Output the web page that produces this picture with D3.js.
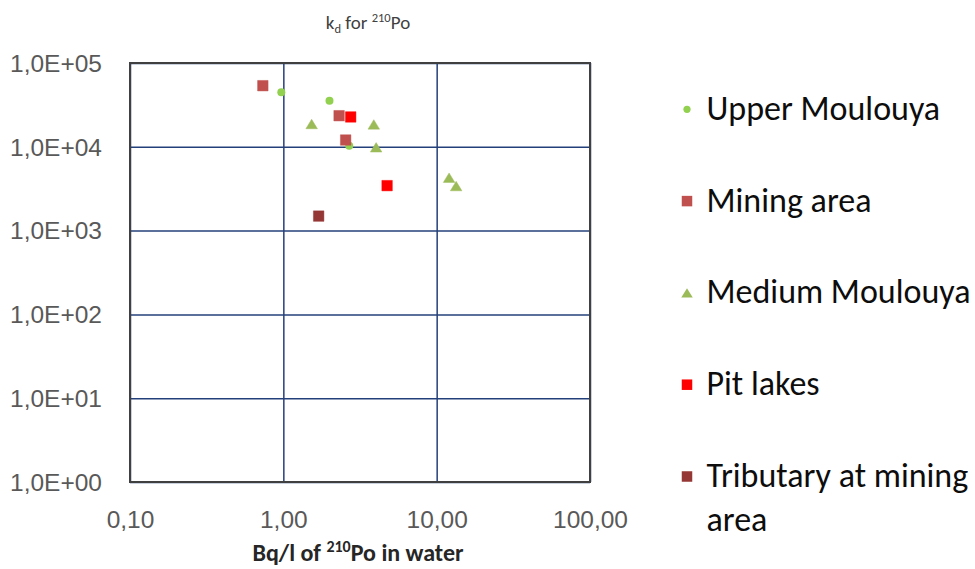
<!DOCTYPE html>
<html>
<head>
<meta charset="utf-8">
<script src="https://cdn.jsdelivr.net/npm/d3@7"></script>
<style>
  html, body { margin: 0; padding: 0; background: #fff; }
  svg { display: block; font-family: Carlito, Lato, "Open Sans", sans-serif; }
</style>
</head>
<body>
<div id="chart"></div>
<script>
// series (x: Bq/l in water, y: kd)
const upperX = [0.97, 2.0, 2.69];
const upperY = [44700, 35500, 10300];
const miningX = [0.735, 2.31, 2.55];
const miningY = [53600, 23500, 12050];
const mediumX = [1.53, 3.89, 4.03, 12.05, 13.4];
const mediumY = [18700, 18500, 9860, 4280, 3400];
const pitX = [2.75, 4.75];
const pitY = [22700, 3440];
const tribX = [1.70];
const tribY = [1490];

const xTicks = [0.1, 1, 10, 100];
const yTicks = [1, 10, 100, 1000, 10000, 100000];

const seriesNames = ["Upper Moulouya", "Mining area", "Medium Moulouya", "Pit lakes", "Tributary at mining area"];

const width = 975;
const height = 569;
const plot = { left: 130, right: 590, top: 63, bottom: 482 };

const series = [
  { name: seriesNames[0], xs: upperX, ys: upperY, shape: "circle", color: "#92D050" },
  { name: seriesNames[1], xs: miningX, ys: miningY, shape: "square", color: "#C0504D" },
  { name: seriesNames[2], xs: mediumX, ys: mediumY, shape: "triangle", color: "#9BBB59" },
  { name: seriesNames[3], xs: pitX, ys: pitY, shape: "square", color: "#FF0000" },
  { name: seriesNames[4], xs: tribX, ys: tribY, shape: "square", color: "#953735" }
];

const x = d3.scaleLog().domain([0.1, 100]).range([plot.left, plot.right]);
const y = d3.scaleLog().domain([1, 100000]).range([plot.bottom, plot.top]);

const svg = d3.select("#chart")
  .append("svg")
  .attr("width", width)
  .attr("height", height)
  .attr("viewBox", [0, 0, width, height]);

// marker path, centred on its box like Excel does
function marker(shape, s) {
  const h = s / 2;
  if (shape === "square") return `M${-h},${-h}H${h}V${h}H${-h}Z`;
  if (shape === "triangle") return `M0,${-h * 0.9}L${h * 1.1},${h * 0.9}L${-h * 1.1},${h * 0.9}Z`;
  const r = h * 0.8;
  return `M${r},0A${r},${r} 0 1,1 ${-r},0A${r},${r} 0 1,1 ${r},0Z`;
}

// grid
svg.append("g")
  .attr("transform", `translate(0,${plot.bottom})`)
  .call(d3.axisBottom(x).tickValues(xTicks).tickSize(-(plot.bottom - plot.top)).tickFormat(""))
  .call(g => g.select(".domain").remove())
  .call(g => g.selectAll(".tick line").attr("stroke", "#24407A").attr("stroke-width", 1.5));

svg.append("g")
  .attr("transform", `translate(${plot.left},0)`)
  .call(d3.axisLeft(y).tickValues(yTicks).tickSize(-(plot.right - plot.left)).tickFormat(""))
  .call(g => g.select(".domain").remove())
  .call(g => g.selectAll(".tick line").attr("stroke", "#24407A").attr("stroke-width", 1.5));

// plot border
svg.append("rect")
  .attr("x", plot.left)
  .attr("y", plot.top)
  .attr("width", plot.right - plot.left)
  .attr("height", plot.bottom - plot.top)
  .attr("fill", "none")
  .attr("stroke", "#404040")
  .attr("stroke-width", 2);

// tick labels
const yFormat = v => "1,0E+" + String(Math.round(Math.log10(v))).padStart(2, "0");
const xFormat = v => d3.format(".2f")(v).replace(".", ",");

svg.append("g")
  .attr("transform", `translate(${plot.left},0)`)
  .call(d3.axisLeft(y).tickValues(yTicks).tickSize(0).tickPadding(28).tickFormat(yFormat))
  .call(g => g.select(".domain").remove())
  .call(g => g.selectAll(".tick text")
    .attr("font-family", null)
    .attr("font-size", 24.5)
    .attr("fill", "#595959")
    .attr("dy", "0.34em"));

svg.append("g")
  .attr("transform", `translate(0,${plot.bottom})`)
  .call(d3.axisBottom(x).tickValues(xTicks).tickSize(0).tickFormat(xFormat))
  .call(g => g.select(".domain").remove())
  .call(g => g.selectAll(".tick text")
    .attr("font-family", null)
    .attr("font-size", 24.5)
    .attr("fill", "#595959")
    .attr("y", 46)
    .attr("dy", null));

// points
series.forEach(s => {
  svg.append("g")
    .selectAll("path")
    .data(d3.range(s.xs.length))
    .join("path")
    .attr("transform", i => `translate(${x(s.xs[i])},${y(s.ys[i])})`)
    .attr("d", marker(s.shape, s.shape === "circle" ? 10 : 10.5))
    .attr("fill", s.color)
    .attr("stroke", s.shape === "circle" ? "none" : s.color)
    .attr("stroke-opacity", 0.45)
    .attr("stroke-width", 1);
});

// title
const title = svg.append("text")
  .attr("x", 368)
  .attr("y", 29)
  .attr("text-anchor", "middle")
  .attr("font-size", 19)
  .attr("fill", "#404040");
title.append("tspan").text("k");
title.append("tspan").attr("font-size", 12.5).attr("dy", 4).text("d");
title.append("tspan").attr("dy", -4).text(" for ");
title.append("tspan").attr("font-size", 12.5).attr("dy", -7).text("210");
title.append("tspan").attr("dy", 7).text("Po");

// x axis title
const xTitle = svg.append("text")
  .attr("x", 358)
  .attr("y", 561)
  .attr("text-anchor", "middle")
  .attr("font-size", 24)
  .attr("font-weight", "bold")
  .attr("fill", "#262626");
xTitle.append("tspan").text("Bq/l of ");
xTitle.append("tspan").attr("font-size", 16).attr("dy", -9).text("210");
xTitle.append("tspan").attr("dy", 9).text("Po in water");

// legend
const legendTop = 109.3;
const legendStep = 91.8;
const legend = svg.append("g");
series.forEach((s, i) => {
  const cy = legendTop + i * legendStep;
  legend.append("path")
    .attr("transform", `translate(687,${cy})`)
    .attr("d", marker(s.shape, s.shape === "circle" ? 9 : 10.5))
    .attr("fill", s.color);
  const words = s.name === seriesNames[4] ? ["Tributary at mining", "area"] : [s.name];
  const t = legend.append("text")
    .attr("x", 706.5)
    .attr("y", cy + 10.5)
    .attr("font-size", 34)
    .attr("fill", "#0D0D0D");
  words.forEach((w, j) => t.append("tspan").attr("x", 706.5).attr("dy", j ? 44 : 0).text(w));
});
</script>
</body>
</html>
